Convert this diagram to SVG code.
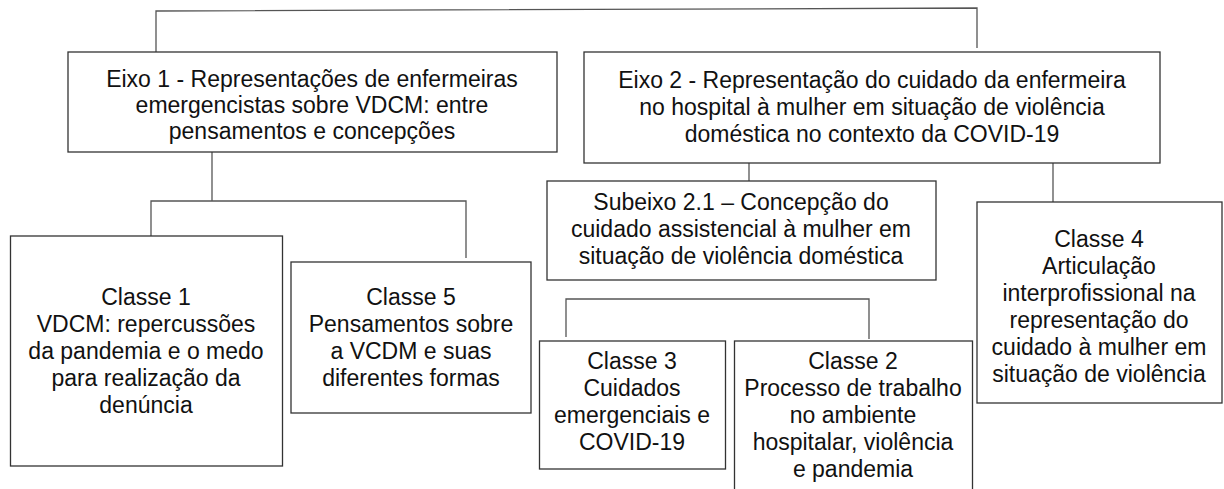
<svg xmlns="http://www.w3.org/2000/svg" width="1224" height="489" viewBox="0 0 1224 489">
<style>
.box{fill:#ffffff;stroke:#333333;stroke-width:1.3}
.ln{fill:none;stroke:#555555;stroke-width:1.3}
text{font-family:"Liberation Sans",Arial,sans-serif;font-size:23px;fill:#111111;text-anchor:middle}
</style>
<rect width="1224" height="489" fill="#ffffff"/>
<g id="connectors">
<polyline class="ln" points="156,52 156,11 977,8 977,48"/>
<polyline class="ln" points="212,152 212,201"/>
<polyline class="ln" points="151,236 151,201 466,201 466,258"/>
<polyline class="ln" points="749,163 749,181"/>
<polyline class="ln" points="1053,163 1053,202"/>
<polyline class="ln" points="566,337 566,299 869,299 869,339"/>
</g>
<g id="eixo1">
<rect class="box" x="68" y="52" width="489" height="100"/>
<text x="312" y="87">Eixo 1 - Representações de enfermeiras</text>
<text x="312" y="113">emergencistas sobre VDCM: entre</text>
<text x="312" y="139">pensamentos e concepções</text>
</g>
<g id="eixo2">
<rect class="box" x="584" y="52" width="576" height="111"/>
<text x="872" y="88">Eixo 2 - Representação do cuidado da enfermeira</text>
<text x="872" y="115">no hospital à mulher em situação de violência</text>
<text x="872" y="142">doméstica no contexto da COVID-19</text>
</g>
<g id="subeixo21">
<rect class="box" x="547" y="181" width="389" height="99"/>
<text x="741" y="210">Subeixo 2.1 – Concepção do</text>
<text x="741" y="237">cuidado assistencial à mulher em</text>
<text x="741" y="264">situação de violência doméstica</text>
</g>
<g id="classe1">
<rect class="box" x="10.5" y="236" width="272" height="230"/>
<text x="146" y="305">Classe 1</text>
<text x="146" y="332">VDCM: repercussões</text>
<text x="146" y="359">da pandemia e o medo</text>
<text x="146" y="386">para realização da</text>
<text x="146" y="413">denúncia</text>
</g>
<g id="classe5">
<rect class="box" x="291" y="262" width="240" height="151"/>
<text x="411" y="305">Classe 5</text>
<text x="411" y="332">Pensamentos sobre</text>
<text x="411" y="359">a VCDM e suas</text>
<text x="411" y="386">diferentes formas</text>
</g>
<g id="classe3">
<rect class="box" x="539.5" y="341" width="186" height="128"/>
<text x="632" y="369">Classe 3</text>
<text x="632" y="396">Cuidados</text>
<text x="632" y="423">emergenciais e</text>
<text x="632" y="450">COVID-19</text>
</g>
<g id="classe2">
<rect class="box" x="734.5" y="341" width="238" height="160"/>
<text x="853" y="369">Classe 2</text>
<text x="853" y="396">Processo de trabalho</text>
<text x="853" y="423">no ambiente</text>
<text x="853" y="450">hospitalar, violência</text>
<text x="853" y="477">e pandemia</text>
</g>
<g id="classe4">
<rect class="box" x="977" y="202" width="245" height="201"/>
<text x="1099" y="247">Classe 4</text>
<text x="1099" y="274">Articulação</text>
<text x="1099" y="301">interprofissional na</text>
<text x="1099" y="328">representação do</text>
<text x="1099" y="355">cuidado à mulher em</text>
<text x="1099" y="382">situação de violência</text>
</g>
</svg>
